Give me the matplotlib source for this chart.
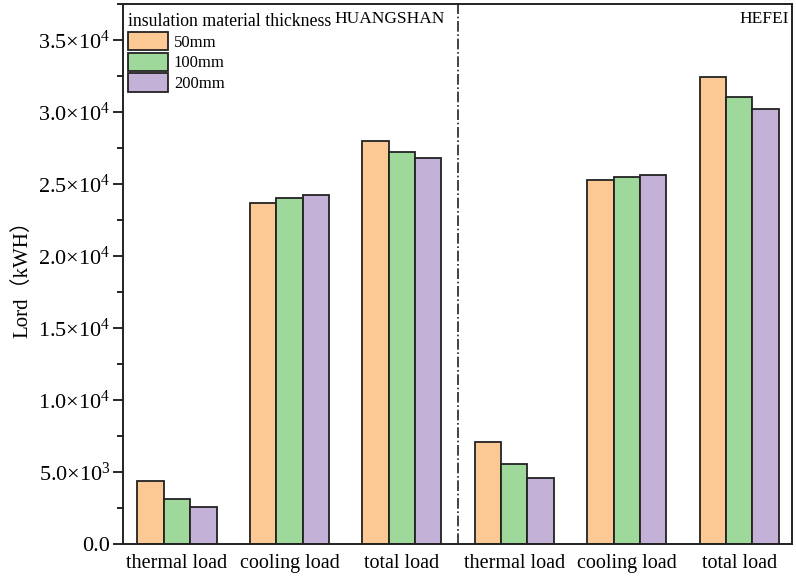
import numpy as np
import matplotlib
matplotlib.use('Agg')
from matplotlib import pyplot as plt
from matplotlib.ticker import FuncFormatter, MultipleLocator

plt.rcParams['font.family'] = ['Liberation Serif', 'Noto Sans CJK SC']
plt.rcParams['mathtext.fontset'] = 'custom'
plt.rcParams['mathtext.rm'] = 'Liberation Serif'

categories = ['thermal load', 'cooling load', 'total load',
              'thermal load', 'cooling load', 'total load']
series_names = ['50mm', '100mm', '200mm']
# HUANGSHAN (first 3) + HEFEI (last 3)
v_50 = [4400, 23700, 28000, 7100, 25300, 32400]
v_100 = [3150, 24000, 27250, 5550, 25500, 31050]
v_200 = [2600, 24250, 26800, 4600, 25600, 30200]
colors = ['#FCC893', '#9ED99B', '#C3B1D8']

fig = plt.figure(figsize=(7.96, 5.78), dpi=100)
ax = fig.add_axes([0.1545, 0.0588, 0.8405, 0.9342])

x = np.arange(len(categories))
w = 0.235
for i, (vals, name) in enumerate(zip([v_50, v_100, v_200], series_names)):
    ax.bar(x + (i - 1) * w, vals, w, color=colors[i], edgecolor='#222222',
           linewidth=1.3, label=name)

ax.axvline(2.5, color='#222222', linestyle='-.', linewidth=1.2)

ax.set_xlim(-0.48, 5.47)
ax.set_ylim(0, 37500)
ax.set_xticks(x)
ax.set_xticklabels(categories, fontsize=14.5)
ax.tick_params(axis='x', length=0, pad=7)

ax.yaxis.set_major_locator(MultipleLocator(5000))
ax.yaxis.set_minor_locator(MultipleLocator(2500))


def fmt(v, pos):
    if v <= 0:
        return '0.0'
    e = int(np.floor(np.log10(v)))
    m = v / 10 ** e
    return r'$\mathregular{%.1f{\times}10^{%d}}$' % (m, e)


ax.yaxis.set_major_formatter(FuncFormatter(fmt))
ax.tick_params(axis='y', which='major', length=7, width=1.2, labelsize=16, pad=2, direction='out')
ax.tick_params(axis='y', which='minor', length=4, width=1.2, direction='out')
for s in ax.spines.values():
    s.set_linewidth(1.4)
    s.set_color('#222222')

ax.set_ylabel('Lord（kWH）', fontsize=15, labelpad=4)

leg = ax.legend(title='insulation material thickness', loc='upper left',
                bbox_to_anchor=(-0.01, 1.005), frameon=False, fontsize=12,
                title_fontsize=12.8, handlelength=2.4, handleheight=1.3,
                labelspacing=0.12, handletextpad=0.35, borderaxespad=0.3)
leg._legend_box.align = 'left'

ax.text(0.481, 0.973, 'HUANGSHAN', transform=ax.transAxes, ha='right', va='center', fontsize=12.5)
ax.text(0.996, 0.973, 'HEFEI', transform=ax.transAxes, ha='right', va='center', fontsize=12.5)

fig.savefig('out.png', dpi=100)
